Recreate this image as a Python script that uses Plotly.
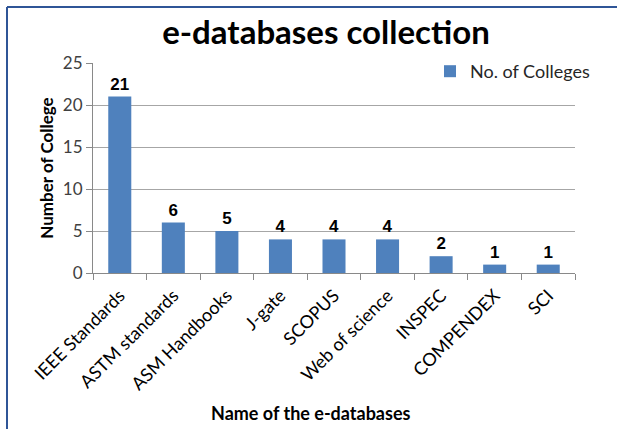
import plotly.graph_objects as go

categories = ["IEEE Standards", "ASTM standards", "ASM Handbooks", "J-gate", "SCOPUS",
              "Web of science", "INSPEC", "COMPENDEX", "SCI"]
colleges = [21, 6, 5, 4, 4, 4, 2, 1, 1]
y_ticks = [0, 5, 10, 15, 20, 25]

W, H = 617, 429
L, R, T, B = 93, 42, 63, 156
pw = W - L - R
ph = H - T - B

fig = go.Figure()
fig.add_trace(go.Bar(
    x=categories, y=colleges, name="No. of Colleges",
    marker=dict(color="#4F81BD", line=dict(width=0)),
    text=[str(v) for v in colleges], textposition="outside",
    textfont=dict(family="Liberation Sans, Arial", size=17, color="#000000"),
    texttemplate="<b>%{text}</b>", cliponaxis=False,
))

fig.update_layout(
    width=W, height=H,
    margin=dict(l=L, r=R, t=T, b=B, autoexpand=False),
    paper_bgcolor="white", plot_bgcolor="white",
    bargap=0.57,
    showlegend=True,
    title=dict(text="<b>e-databases collection</b>", x=(326) / W, xanchor="center",
               y=1 - 32 / H, yanchor="middle",
               font=dict(family="Lato, Open Sans", size=33, color="#000000")),
    legend=dict(x=(430 - L) / pw, y=1 + 10 / ph, xanchor="left", yanchor="top",
                bgcolor="rgba(255,255,255,0)",
                font=dict(family="Lato, Open Sans", size=18, color="#262626"),
                itemwidth=30, tracegroupgap=0),
    xaxis=dict(
        type="category", tickangle=-45, tickson="boundaries",
        ticks="outside", ticklen=6, tickcolor="#898989",
        showline=True, linecolor="#898989", linewidth=1.2,
        tickfont=dict(family="Lato, Open Sans", size=18, color="#000000"),
        ticklabelstandoff=4,
        automargin=False,
    ),
    yaxis=dict(
        range=[0, 25], tickvals=y_ticks, ticks="outside", ticklen=6, tickcolor="#898989",
        showline=True, linecolor="#898989", linewidth=1.2,
        showgrid=True, gridcolor="#A6A6A6", gridwidth=1,
        tickfont=dict(family="Lato, Open Sans", size=17, color="#404040"),
        automargin=False,
        title=dict(text="<b>Number of College</b>", standoff=4,
                   font=dict(family="Lato, Open Sans", size=17, color="#000000")),
        zeroline=False,
    ),
    annotations=[dict(
        text="<b>Name of the e-databases</b>", xref="paper", yref="paper",
        x=(311 - L) / pw, y=-(413 - (H - B)) / ph, xanchor="center", yanchor="middle",
        showarrow=False, font=dict(family="Lato, Open Sans", size=18, color="#000000"),
    )],
)

# outer frame (top and left border of the chart)
border_col = "#2F5597"
fig.add_shape(type="line", xref="paper", yref="paper",
              x0=(7 - L) / pw, x1=(W + 5 - L) / pw, y0=(H - B - 7) / ph, y1=(H - B - 7) / ph,
              line=dict(color=border_col, width=2))
fig.add_shape(type="line", xref="paper", yref="paper",
              x0=(7 - L) / pw, x1=(7 - L) / pw, y0=(H - B - 7) / ph, y1=-(B + 5) / ph,
              line=dict(color=border_col, width=2))

fig.write_html("out.html")
